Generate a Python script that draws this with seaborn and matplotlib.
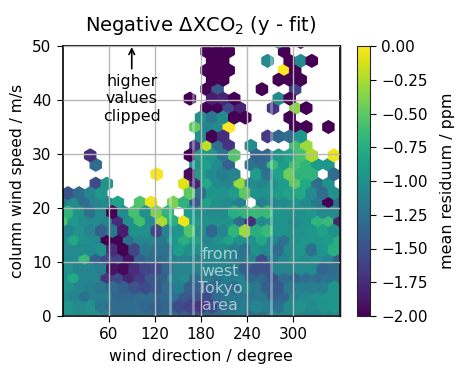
import numpy as np
import pandas as pd
import seaborn as sns
import matplotlib.pyplot as plt

# mean residuum per hexagon, one list per speed row (bottom to top)
# even rows start at 0 deg, odd rows are shifted half a bin
n = None
r00 = [-1.0,-1.0,-1.05,-1.0,-1.1,-1.3,-1.3,-1.25,-1.3,-1.3,-1.3,-1.4,-1.5,-1.35,-1.3,-1.2,-1.15,-1.3,-1.25,-1.1,-1.1,-1.05,-1.1,-1.1,-1.05,-1.05]
r01 = [-0.95,-1.05,-1.0,-1.2,-1.3,-1.3,-1.3,-1.35,-1.4,-1.35,-1.55,-1.6,-1.7,-1.55,-1.3,-1.2,-1.15,-1.1,-1.15,-1.25,-1.05,-1.0,-1.05,-1.0,-0.95]
r02 = [-1.05,-1.1,-1.25,-1.15,-1.15,-1.35,-1.35,-1.3,-1.3,-1.35,-1.25,-1.45,-1.5,-1.55,-1.3,-1.2,-1.2,-1.2,-1.2,-1.4,-1.35,-1.1,-1.05,-1.0,-0.95,-0.95]
r03 = [-1.0,-1.1,-1.15,-1.2,-1.3,-1.4,-1.5,-1.55,-1.45,-1.3,-1.15,-1.4,-1.4,-1.35,-1.2,-1.3,-1.1,-1.2,-1.4,-1.45,-1.2,-1.15,-1.15,-1.15,-0.95]
r04 = [-1.0,-0.8,-1.1,-1.1,-1.7,-1.55,-1.8,-1.65,-1.45,-1.4,-1.1,-1.05,-1.3,-1.15,-1.25,-1.15,-1.1,-1.35,-1.35,-1.5,-1.3,-1.35,-1.3,-1.3,-1.25,-1.25]
r05 = [-1.0,-1.1,-1.1,-1.15,-1.9,-1.95,-1.75,-1.6,-1.55,-1.35,-1.1,-1.1,-1.1,-1.1,-1.1,-1.15,-1.4,-1.5,-1.5,-1.1,-1.1,-1.05,-1.05,-1.35,-1.3]
r06 = [-1.05,-1.05,-0.65,-1.4,-1.55,-1.6,-1.9,-1.4,-1.3,-1.3,-1.15,-1.1,-1.15,-1.1,-1.05,-1.1,-1.2,-1.1,-1.55,-1.2,-1.1,-1.0,-1.05,-1.0,-1.1,-1.4]
r07 = [-1.05,-1.05,-1.05,-1.0,-1.75,-2.0,-1.6,-1.2,-1.25,-1.25,-0.9,-1.0,-1.0,-1.05,-1.05,-1.15,-1.25,-1.0,-1.05,-1.3,-1.05,-0.95,-1.25,-0.95,-0.75]
r08 = [-1.05,-0.8,-1.0,-1.05,-2.0,-2.0,-1.25,-1.1,-1.1,-1.2,-0.95,-0.75,-0.85,-1.1,-1.0,-0.85,-1.0,-1.0,-0.8,-1.1,-1.25,-1.0,-0.95,-0.95,-0.9,-0.75]
r09 = [-1.1,-1.0,-1.1,-1.4,-1.2,-1.85,-1.0,-1.0,-1.6,-1.1,-0.95,-0.55,-1.0,-1.35,-1.1,-0.7,-0.3,-0.75,-0.65,-1.0,-1.0,-1.0,-0.95,-0.85,-1.0]
r10 = [-0.55,-0.95,-1.05,-1.05,-1.1,-1.75,-1.0,-0.6,-1.05,-0.25,-0.75,-0.05,-0.9,-1.0,-1.0,-1.0,-1.3,-1.75,-1.05,-1.0,-1.0,-1.05,-1.0,-0.7,-0.65,-1.8]
r11 = [-0.7,-1.0,-1.25,-1.05,-2.0,-1.05,-0.6,-1.0,-0.4,-0.7,n,-0.9,-1.0,-1.05,-1.05,-0.75,-0.7,-0.65,-0.65,-0.95,-1.0,-1.0,-0.95,-1.05,-1.05]
r12 = [-1.15,-1.05,-1.3,-1.1,-1.05,-0.85,n,-0.55,-0.05,n,-0.4,-0.7,-1.45,-0.85,-1.0,-1.05,-1.15,n,-1.15,-1.1,-1.05,-0.95,-1.05,-1.2,-2.0,-1.3]
r13 = [-1.5,-1.3,-1.1,-0.95,n,n,n,n,n,n,n,-0.5,-1.3,-0.95,-1.0,-0.9,-0.5,-1.0,-1.0,-0.9,-0.85,-0.8,-1.05,-1.3,-1.0]
r14 = [n,n,n,-1.55,-0.95,n,n,n,n,n,n,-0.1,-1.8,-0.8,-1.05,-1.1,-0.3,-1.05,-1.1,-1.0,-0.9,-0.5,-0.8,-1.3,-1.0,n]
r15 = [n,n,n,n,n,n,n,n,-0.02,n,n,-1.95,-0.9,-1.05,-1.15,-1.1,n,-0.9,-1.25,-0.85,-0.45,-0.7,-0.7,n,-1.3]
r16 = [n,n,n,-1.3,n,n,n,n,n,n,n,n,-1.0,-0.85,-1.05,-1.4,n,-1.25,-1.3,-0.65,-0.9,-0.6,-0.7,-0.9,-0.95,n]
r17 = [n,n,-1.75,n,n,n,n,n,n,n,n,-2.0,-0.9,-0.95,-1.25,-0.55,n,-1.35,-1.35,-0.95,-0.85,-0.6,-0.25,n,-0.05]
r18 = [n,n,n,n,n,n,n,n,n,n,n,n,-1.7,-0.2,-1.25,-1.7,n,-1.05,n,n,n,-0.6,-0.3,n,n,n]
r19 = [n,n,n,n,n,n,n,n,n,n,n,n,-1.0,-2.0,-1.75,n,n,n,-1.65,-1.35,-1.3,-0.95,n,n,n]
r20 = [n,n,n,n,n,n,n,n,n,n,n,n,-0.5,-1.1,-1.05,-0.0,n,n,n,n,n,-2.0,-2.0,n,-2.0,n]
r21 = [n,n,n,n,n,n,n,n,n,n,n,n,-1.0,-1.2,-1.05,-2.0,-2.0,n,n,n,-2.0,n,n,n,n]
r22 = [n,n,n,n,n,n,n,n,n,n,n,n,n,-2.0,-2.0,-1.55,-1.8,n,n,-1.7,n,-0.35,-2.0,n,n,n]
r23 = [n,n,n,n,n,n,n,n,n,n,n,-2.0,n,-1.85,-1.8,-2.0,n,n,n,-1.05,-2.0,n,n,n,n]
r24 = [n,n,n,n,n,n,n,n,n,n,n,n,n,-2.0,-1.45,n,n,n,-2.0,n,n,-1.6,n,n,n,n]
r25 = [n,n,n,n,n,n,n,n,n,n,n,n,n,-2.0,-2.0,n,n,n,n,-2.0,-2.0,-2.0,n,n,n]
r26 = [n,n,n,n,n,n,n,n,n,n,n,n,n,-2.0,-2.0,-2.0,n,n,n,n,-0.0,-2.0,n,n,n,n]
r27 = [n,n,n,n,n,n,n,n,n,n,n,n,n,-2.0,-2.0,n,n,n,-1.05,n,-2.0,-1.05,-2.0,n,n]
r28 = [n,n,n,n,n,n,n,n,n,n,n,n,n,-2.0,-2.0,-2.0,n,n,n,n,-2.0,n,n,n,n,n]
r29 = [n,n,n,n,n,n,n,n,n,n,n,n,n,n,n,n,n,n,n,-1.05,n,-2.0,n,n,n]
rows = [r00,r01,r02,r03,r04,r05,r06,r07,r08,r09,r10,r11,r12,r13,r14,r15,r16,r17,r18,r19,r20,r21,r22,r23,r24,r25,r26,r27,r28,r29]

dir_bin = 14.4
speed_step = 1.75
x_ticks = [60, 120, 180, 240, 300]
white_lines = [140, 170, 271]

records = []
for k, row in enumerate(rows):
    for i, val in enumerate(row):
        if val is not None:
            records.append((dir_bin * (i + 0.5 * (k % 2)), speed_step * k, val))
df = pd.DataFrame(records, columns=['direction', 'speed', 'residuum'])

sns.set_style('ticks', {'text.color': 'black', 'axes.labelcolor': 'black',
                        'xtick.color': 'black', 'ytick.color': 'black'})
fig = plt.figure(figsize=(4.59, 3.71), dpi=100)
ax = fig.add_axes([62.5 / 459, 1 - 316 / 371, 277 / 459, 270 / 371])
cax = fig.add_axes([357 / 459, 1 - 316 / 371, 13 / 459, 270 / 371])

hb = ax.hexbin(df['direction'], df['speed'], C=df['residuum'], reduce_C_function=np.mean,
               gridsize=(25, 15), extent=(0, 360, 0, 52.5), cmap='viridis', vmin=-2, vmax=0)
ax.set_xlim(0, 360)
ax.set_ylim(0, 50)
ax.set_xticks(x_ticks)
ax.set_yticks(range(0, 51, 10))
ax.set_axisbelow(False)
ax.grid(True, color='0.72', lw=1.0)
ax.axvline(360, color='0.72', lw=2, clip_on=False, zorder=1)
for xv in white_lines:
    ax.axvline(xv, color='white', alpha=0.35, lw=2)
for s in ax.spines.values():
    s.set_color('black')
    s.set_linewidth(1.2)
ax.tick_params(length=4.5, pad=3.5, labelsize=11)
ax.set_xlabel('wind direction / degree', fontsize=11.4, labelpad=5)
ax.set_ylabel('column wind speed / m/s', fontsize=11.2, labelpad=5)
ax.set_title('Negative $\\Delta$XCO$_2$ (y - fit)', fontsize=14, pad=11)

ax.annotate('', xy=(90, 49.8), xytext=(90, 45.8),
            arrowprops=dict(arrowstyle='->', color='black', lw=1.2, shrinkA=0, shrinkB=0))
ax.text(90, 40.2, 'higher\nvalues\nclipped', ha='center', va='center', fontsize=11.4, linespacing=1.22)
ax.text(205, 6.7, 'from\nwest\nTokyo\narea', ha='center', va='center', fontsize=11.4,
        color='white', alpha=0.6, linespacing=1.15)

cb = fig.colorbar(hb, cax=cax)
cb.set_ticks(np.arange(-2, 0.01, 0.25))
cb.set_label('mean residuum / ppm', fontsize=11.4, labelpad=9)
cb.ax.tick_params(length=4.5, pad=3.5, labelsize=11)

fig.savefig('out.png', dpi=100)
